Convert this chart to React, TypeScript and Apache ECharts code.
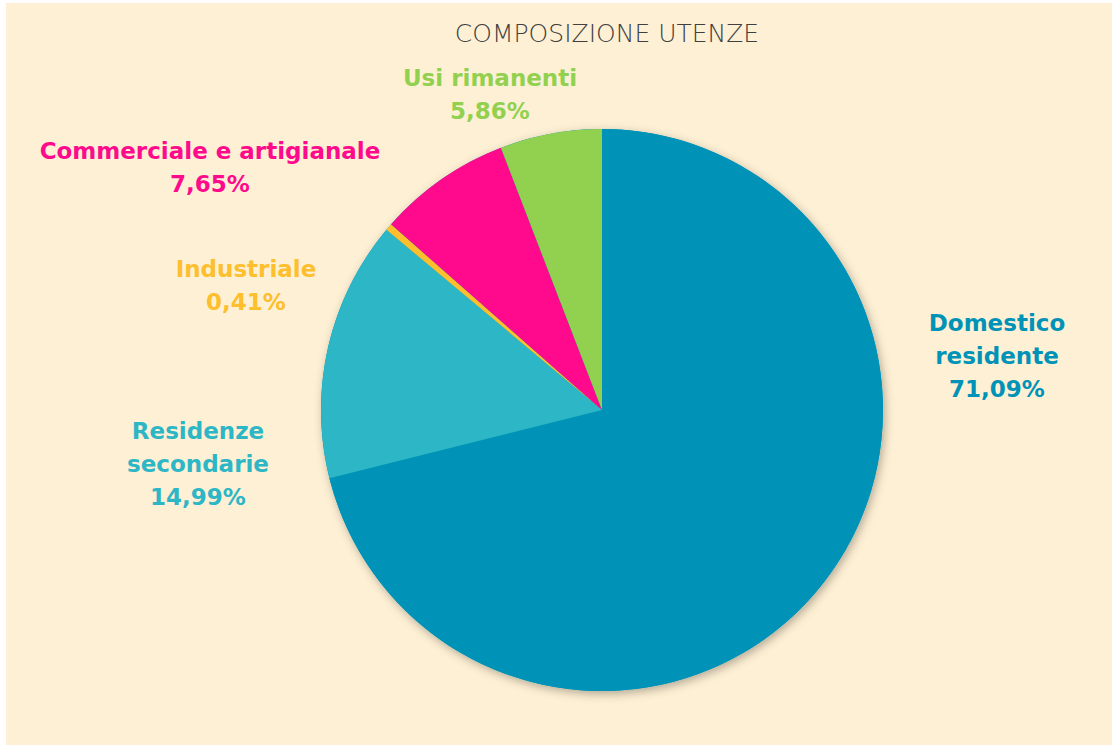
import React, { useEffect, useRef } from "react";
import * as echarts from "echarts";

const categories = [
  "Domestico\nresidente",
  "Residenze\nsecondarie",
  "Industriale",
  "Commerciale e artigianale",
  "Usi rimanenti",
];
const values = [71.09, 14.99, 0.41, 7.65, 5.86];
const colors = ["#0093B7", "#2DB6C5", "#FDBF2D", "#FF0A8C", "#92D050"];
const labelPositions = [
  [997, 356],
  [198, 464],
  [246, 285],
  [210, 167],
  [490, 94],
];

export default function App() {
  const ref = useRef<HTMLDivElement>(null);
  useEffect(() => {
    if (!ref.current) return;
    const chart = echarts.init(ref.current, undefined, { renderer: "svg" });
    chart.setOption({
      animation: false,
      backgroundColor: "#ffffff",
      graphic: [
        {
          type: "rect",
          z: -10,
          silent: true,
          shape: { x: 6, y: 3, width: 1106, height: 742 },
          style: { fill: "#FEF0D4" },
        },
      ],
      title: {
        text: "COMPOSIZIONE UTENZE",
        left: 602,
        top: 16,
        textAlign: "center",
        textStyle: {
          fontFamily: "'DejaVu Sans', sans-serif",
          fontWeight: 200,
          fontSize: 25,
          color: "#404040",
        },
      },
      series: [
        {
          type: "pie",
          z: 1,
          silent: true,
          center: [602, 410],
          radius: 281,
          data: [{ value: 1, name: "" }],
          itemStyle: {
            color: "#0093B7",
            shadowBlur: 10,
            shadowOffsetX: 2,
            shadowOffsetY: 3,
            shadowColor: "rgba(0,0,0,0.3)",
          },
          label: { show: false },
          labelLine: { show: false },
          emphasis: { disabled: true },
          tooltip: { show: false },
        },
        {
          type: "pie",
          z: 2,
          center: [602, 410],
          radius: 281,
          startAngle: 90,
          clockwise: true,
          data: categories.map((name, i) => ({
            name,
            value: values[i],
            itemStyle: { color: colors[i] },
            label: { color: colors[i] },
          })),
          itemStyle: { borderWidth: 0 },
          label: {
            show: true,
            position: "outside",
            formatter: (p: any) =>
              p.name + "\n" + p.value.toFixed(2).replace(".", ",") + "%",
            fontFamily: "'DejaVu Sans', sans-serif",
            fontWeight: "bold",
            fontSize: 23,
            lineHeight: 33,
            align: "center",
          },
          labelLine: { show: false },
          labelLayout: (params: any) => {
            const pos = labelPositions[params.dataIndex];
            return {
              x: pos[0],
              y: pos[1],
              align: "center",
              verticalAlign: "middle",
            };
          },
          emphasis: { disabled: true },
        },
      ],
    });
    return () => chart.dispose();
  }, []);
  return (
    <div
      ref={ref}
      style={{ position: "fixed", left: 0, top: 0, width: 1112, height: 747 }}
    />
  );
}
